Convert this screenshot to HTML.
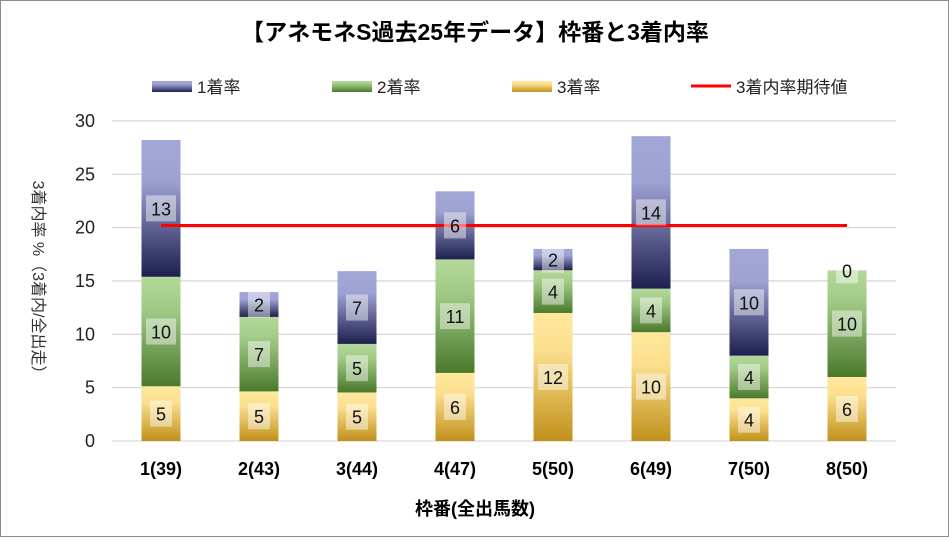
<!DOCTYPE html>
<html><head><meta charset="utf-8"><style>
body{margin:0;background:#fff;}
#c{position:relative;width:947px;height:535px;border:1px solid #8c8c8c;font-family:"Liberation Sans","Noto Sans CJK JP",sans-serif;}
svg text{font-family:"Liberation Sans","Noto Sans CJK JP",sans-serif;}
</style></head><body>
<div id="c">
<svg id="s" width="947" height="535">
<defs>
<linearGradient id="g1" x1="0" y1="0" x2="0" y2="1"><stop offset="0" stop-color="#a3a7d6"/><stop offset="0.3" stop-color="#9ea2d2"/><stop offset="1" stop-color="#1d1f4e"/></linearGradient>
<linearGradient id="g2" x1="0" y1="0" x2="0" y2="1"><stop offset="0" stop-color="#b4d99a"/><stop offset="0.3" stop-color="#a0c985"/><stop offset="1" stop-color="#4a7a2b"/></linearGradient>
<linearGradient id="g3" x1="0" y1="0" x2="0" y2="1"><stop offset="0" stop-color="#ffe89d"/><stop offset="0.3" stop-color="#fbdf8e"/><stop offset="1" stop-color="#c0901a"/></linearGradient>
</defs>
<text x="474" y="39" text-anchor="middle" font-size="23" font-weight="bold" fill="#000">【アネモネS過去25年データ】枠番と3着内率</text>
<g id="legend">
<rect x="151" y="80" width="40" height="11" fill="url(#g1)"/>
<text x="196" y="92" font-size="17" fill="#222">1着率</text>
<rect x="331" y="80" width="40" height="11" fill="url(#g2)"/>
<text x="376" y="92" font-size="17" fill="#222">2着率</text>
<rect x="511" y="80" width="40" height="11" fill="url(#g3)"/>
<text x="556" y="92" font-size="17" fill="#222">3着率</text>
<line x1="690" y1="85" x2="730" y2="85" stroke="#f00" stroke-width="3"/>
<text x="735" y="92" font-size="17" fill="#222">3着内率期待値</text>
</g>
<text transform="translate(32,280) rotate(90)" text-anchor="middle" font-size="16" fill="#333">3着内率 %（3着内/全出走）</text>
<text x="474" y="514" text-anchor="middle" font-size="18" font-weight="bold" fill="#000">枠番(全出馬数)</text>
<g id="grid"></g><g id="bars"></g><g id="line"></g><g id="labels"></g>
</svg></div>
<script>
const categories=["1(39)","2(43)","3(44)","4(47)","5(50)","6(49)","7(50)","8(50)"];
const third=[5.13,4.65,4.55,6.38,12,10.2,4,6];
const second=[10.26,6.98,4.55,10.64,4,4.08,4,10];
const first=[12.82,2.33,6.82,6.38,2,14.29,10,0];
const expected=[20.2];
const yTicks=[0,5,10,15,20,25,30];
const NS="http://www.w3.org/2000/svg";
const y0=440,pxu=10.67,x0=111,step=98,bw=39;
const Y=v=>y0-v*pxu, X=i=>x0+step*(i+0.5);
function mk(t,a,p){const e=document.createElementNS(NS,t);for(const k in a)e.setAttribute(k,a[k]);p.appendChild(e);return e;}
const grid=document.getElementById('grid'),bars=document.getElementById('bars'),labels=document.getElementById('labels'),line=document.getElementById('line');
yTicks.forEach(t=>{
 const l=mk('line',{x1:x0,x2:x0+step*8,y1:Y(t),y2:Y(t),stroke:'#d9d9d9','stroke-width':1.3},grid);
 
 
 const tx=mk('text',{x:94,y:Y(t)+6,'text-anchor':'end','font-size':18,fill:'#222'},grid);
 tx.textContent=t;
 
 
});
const series=[[third,'g3','third'],[second,'g2','second'],[first,'g1','first']];
categories.forEach((c,i)=>{
 let base=0;
 series.forEach(([arr,g,n])=>{
  const v=arr[i];
  const r=mk('rect',{x:X(i)-bw/2,y:Y(base+v),width:bw,height:v*pxu,fill:'url(#'+g+')'},bars);
  
  
  const cy=Y(base+v/2);
  const txt=String(Math.round(v));
  const w=txt.length>1?30:22;
  const b=mk('rect',{x:X(i)-w/2,y:cy-13,width:w,height:26,fill:'rgba(255,255,255,0.45)'},labels);
  
  
  const t=mk('text',{x:X(i),y:cy+7,'text-anchor':'middle','font-size':18,fill:'#111'},labels);
  t.textContent=txt;
  
  
  base+=v;
 });
 const xl=mk('text',{x:X(i),y:474,'text-anchor':'middle','font-size':18,'font-weight':'bold',fill:'#000'},grid);
 xl.textContent=c;
 
 
});
const el=mk('line',{x1:X(0),x2:X(7),y1:Y(expected[0]),y2:Y(expected[0]),stroke:'#f00','stroke-width':3},line);


</script>
</body></html>
